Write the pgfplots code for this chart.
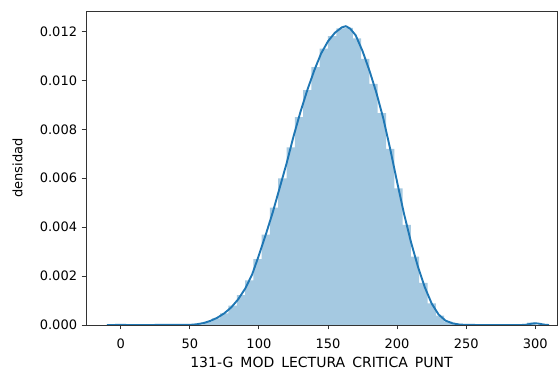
\documentclass[border=0pt]{standalone}
\usepackage{pgfplots}
\pgfplotsset{compat=1.18}
\usepackage{fontspec}
\setmainfont{DejaVu Sans}
\definecolor{mplblue}{HTML}{1F77B4}
\definecolor{barblue}{HTML}{A5C9E1}
\definecolor{spine}{HTML}{333333}
\begin{document}
\fontsize{13}{15.6}\selectfont
\begin{tikzpicture}
\useasboundingbox (-86pt,-46pt) rectangle (472pt,325pt);
\begin{axis}[at={(0,0)}, anchor=south west, scale only axis,
  width=471pt, height=314pt,
  xmin=-25.1, xmax=315.7, ymin=0, ymax=0.01284,
  xtick={0,50,100,150,200,250,300},
  ytick={0,0.002,0.004,0.006,0.008,0.010,0.012},
  scaled y ticks=false,
  yticklabel style={/pgf/number format/.cd, fixed, fixed zerofill, precision=3},
  /pgf/number format/assume math mode=true,
  tick align=outside, tick pos=left, major tick length=4.4pt,
  tick style={spine, line width=0.9pt},
  axis line style={spine, line width=0.9pt},
  xticklabel style={yshift=-5pt},
  xlabel={\fontsize{14}{16}\selectfont 131-G\hspace{0.5em}MOD\hspace{0.5em}LECTURA\hspace{0.5em}CRITICA\hspace{0.5em}PUNT},
  ylabel={densidad},
  every axis x label/.style={at={(axis description cs:0.5,0)}, anchor=north, yshift=-28pt},
  every axis y label/.style={at={(axis description cs:0,0.5)}, xshift=-59pt, rotate=90, anchor=south},
  clip=true,
]
\addplot[ybar interval, fill=barblue, draw=none] coordinates {
(0,0) (6,0) (12,0) (18,0) (24,0) (30,0) (36,0) (42,0)
(48,0.000005) (54,0.00003) (60,0.00013) (66,0.00027) (72,0.00048)
(78,0.00079) (84,0.00122) (90,0.00182) (96,0.00269) (102,0.00370)
(108,0.00480) (114,0.00600) (120,0.00726) (126,0.00850) (132,0.00960)
(138,0.01054) (144,0.01130) (150,0.01181) (156,0.01213) (162,0.01215)
(168,0.01172) (174,0.01088) (180,0.00986) (186,0.00866) (192,0.00720)
(198,0.00559) (204,0.00409) (210,0.00280) (216,0.00172) (222,0.00088)
(228,0.00038) (234,0.00014) (240,0.00004) (246,0.00001) (252,0)
(258,0) (264,0) (270,0) (276,0) (282,0) (288,0) (294,0.0001) (300,0)
};
\addplot[mplblue, line width=1.9pt, line join=round] coordinates {
(-10,0) (0,0.000003) (10,0) (50,0.000005) (55,0.00003) (60,0.00008) (65,0.00017)
(70,0.00030) (75,0.00048) (80,0.00072) (85,0.00105) (90,0.00148)
(95,0.00205) (100,0.00285) (105,0.00370) (110,0.00460) (115,0.00560)
(120,0.00660) (125,0.00770) (130,0.00870) (135,0.00960) (140,0.01040)
(145,0.01110) (150,0.01160) (155,0.01195) (160,0.01217) (163,0.01222)
(166,0.01212) (170,0.01185) (175,0.01120) (180,0.01040) (185,0.00950)
(190,0.00845) (195,0.00720) (200,0.00585) (205,0.00455) (210,0.00340)
(215,0.00240) (220,0.00155) (225,0.00088) (230,0.00043) (235,0.00018)
(240,0.00007) (245,0.00002) (250,0.000005) (260,0) (290,0)
(293,0.00001) (296,0.00004) (298,0.00006) (300,0.00007) (302,0.00006)
(304,0.00004) (307,0.00001) (310,0)
};
\end{axis}
\end{tikzpicture}
\end{document}
